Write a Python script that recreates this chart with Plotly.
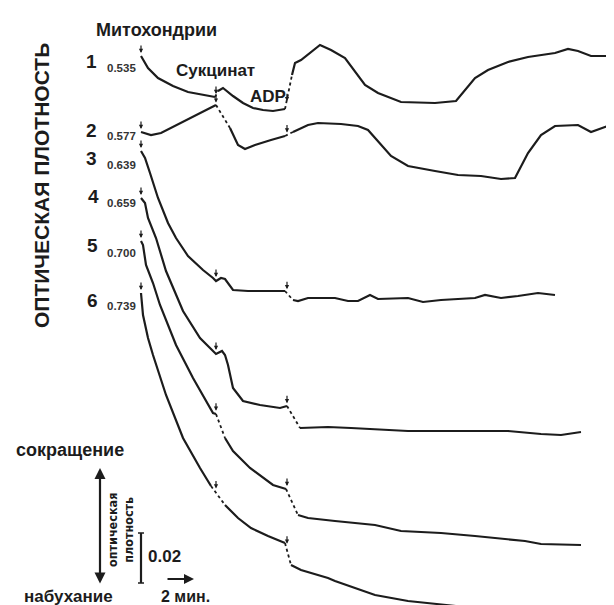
import numpy as np
import plotly.graph_objects as go

# ---- data read from the recording (time units, deflection units; deflection axis points down) ----
t1 = [133, 140, 150, 165, 180, 195, 207, 210, 215, 225, 235, 245, 255, 265, 277, 284, 287, 293, 302, 312, 323, 337, 357, 370, 393, 427, 448, 467, 480, 500, 520, 547, 560, 570, 583, 600]
d1 = [48, 60, 70, 78, 84, 87, 89, 83, 80, 88, 95, 100, 102, 103, 101, 67, 55, 52, 45, 37, 42, 50, 77, 85, 94, 95, 93, 70, 62, 54, 49, 45, 41, 43, 48, 48]
dash1 = [6, 14]

t2 = [133, 143, 153, 167, 187, 203, 208, 222, 230, 237, 247, 263, 277, 285, 300, 310, 333, 350, 360, 383, 400, 427, 450, 473, 493, 507, 520, 533, 547, 570, 583, 600, 613]
d2 = [124, 127, 125, 118, 108, 100, 97, 120, 137, 141, 137, 132, 128, 124, 117, 115, 116, 118, 122, 148, 158, 163, 167, 168, 171, 170, 145, 127, 118, 117, 124, 118, 128]
dash2 = [6, 12]

t3 = [133, 137, 142, 150, 160, 168, 180, 195, 205, 208, 213, 217, 225, 240, 258, 277, 285, 290, 300, 320, 327, 340, 350, 362, 370, 400, 415, 433, 467, 477, 493, 510, 530, 547]
d3 = [143, 150, 165, 190, 215, 230, 248, 262, 270, 273, 270, 271, 282, 283, 283, 283, 292, 293, 290, 290, 290, 293, 293, 287, 291, 290, 294, 292, 290, 287, 290, 288, 285, 287]
dash3 = [15]

t4 = [133, 137, 140, 148, 158, 175, 192, 208, 214, 217, 220, 225, 235, 252, 272, 279, 292, 320, 343, 400, 500, 533, 553, 573]
d4 = [190, 195, 210, 230, 263, 303, 330, 346, 343, 347, 357, 380, 393, 397, 400, 398, 420, 419, 420, 423, 423, 426, 427, 424]
dash4 = [15]

t5 = [133, 135, 138, 145, 152, 168, 185, 205, 208, 217, 225, 242, 265, 278, 290, 300, 327, 367, 393, 433, 467, 517, 533, 573]
d5 = [233, 237, 257, 275, 297, 337, 370, 405, 406, 430, 443, 460, 477, 481, 507, 510, 513, 517, 523, 525, 528, 533, 536, 537]
dash5 = [8, 13]

t6 = [133, 135, 140, 145, 158, 175, 192, 203, 217, 230, 243, 260, 277, 283, 293, 320, 327, 367, 400, 467, 500, 540, 575]
d6 = [285, 307, 330, 347, 387, 430, 460, 478, 497, 510, 520, 528, 535, 557, 562, 570, 573, 587, 593, 600, 603, 607, 610]
dash6 = [7, 12]

trace_names = ["1", "2", "3", "4", "5", "6"]
start_od = ["0.535", "0.577", "0.639", "0.659", "0.700", "0.739"]
events = [133, 208, 279]  # mitochondria, succinate, ADP additions

traces = [(t1, d1, dash1), (t2, d2, dash2), (t3, d3, dash3),
          (t4, d4, dash4), (t5, d5, dash5), (t6, d6, dash6)]

INK = "#1c1c1c"
fig = go.Figure()


def add_segments(x, y, dashed):
    n = len(x)
    groups = []
    for i in range(n - 1):
        style = "dot" if i in dashed else "solid"
        if groups and groups[-1][0] == style:
            groups[-1][1].append(i + 1)
        else:
            groups.append([style, [i, i + 1]])
    for style, idx in groups:
        fig.add_trace(go.Scatter(
            x=[x[k] for k in idx], y=[y[k] for k in idx], mode="lines",
            line=dict(color=INK, width=2.2 if style == "solid" else 1.8, dash=style),
            hoverinfo="skip", showlegend=False))


for x, y, dsh in traces:
    add_segments(x, y, dsh)

annotations = []
# event arrows above each trace
for x, y, dsh in traces:
    for ev in events:
        yl = float(np.interp(ev - 1, x, y))
        annotations.append(dict(x=ev, y=yl - 3, ax=ev, ay=yl - 12, xref="x", yref="y",
                                axref="x", ayref="y", showarrow=True, arrowhead=2,
                                arrowsize=0.7, arrowwidth=1.2, arrowcolor=INK, text=""))

# trace numbers and starting optical densities
num_pos = [(83, 53), (83, 122), (83, 150), (85, 188), (84, 237), (84, 292)]
od_pos = [(113, 60), (113, 128), (113, 157), (113, 195), (113, 245), (113, 298)]
for name, od, (nx, ny), (ox, oy) in zip(trace_names, start_od, num_pos, od_pos):
    annotations.append(dict(x=nx, y=ny, text="<b>%s</b>" % name, showarrow=False,
                            xref="x", yref="y", font=dict(size=19, color=INK, family="Liberation Sans, Arial")))
    annotations.append(dict(x=ox, y=oy, text="<b>%s</b>" % od, showarrow=False,
                            xref="x", yref="y", font=dict(size=11.5, color="#333", family="Liberation Sans, Arial")))

bold = dict(family="Liberation Sans, Arial", color=INK)
texts = [
    ("Митохондрии", 148, 22, 18, 0),
    ("Сукцинат", 207, 62, 17, 0),
    ("ADP", 260, 88, 17, 0),
    ("ОПТИЧЕСКАЯ ПЛОТНОСТЬ", 33, 178, 21, -90),
    ("сокращение", 62, 442, 18, 0),
    ("набухание", 60, 588, 17, 0),
    ("0.02", 156, 548, 17, 0),
    ("2 мин.", 177, 588, 16, 0),
]
for s, x, y, sz, ang in texts:
    annotations.append(dict(x=x, y=y, text="<b>%s</b>" % s, showarrow=False, textangle=ang,
                            xref="x", yref="y", font=dict(size=sz, **bold)))

annotations.append(dict(x=112, y=522, text="<b>оптическая<br>плотность</b>", showarrow=False,
                        textangle=-90, xref="x", yref="y",
                        font=dict(size=12.5, family="Liberation Sans Narrow, DejaVu Sans Condensed, Arial", color=INK)))

# double-headed vertical arrow
annotations.append(dict(x=92, y=460, ax=92, ay=577, xref="x", yref="y", axref="x", ayref="y",
                        showarrow=True, arrowhead=2, arrowside="end+start", arrowsize=1,
                        arrowwidth=2.2, arrowcolor=INK, text=""))
# time arrow
annotations.append(dict(x=186, y=571, ax=158, ay=571, xref="x", yref="y", axref="x", ayref="y",
                        showarrow=True, arrowhead=2, arrowsize=1, arrowwidth=2,
                        arrowcolor=INK, text=""))

shapes = [
    dict(type="line", x0=133, x1=133, y0=525, y1=575, xref="x", yref="y", line=dict(color=INK, width=2.2)),
    dict(type="line", x0=130, x1=136, y0=525, y1=525, xref="x", yref="y", line=dict(color=INK, width=1.5)),
    dict(type="line", x0=130, x1=136, y0=575, y1=575, xref="x", yref="y", line=dict(color=INK, width=1.5)),
]

fig.update_layout(
    width=614, height=605, margin=dict(l=0, r=0, t=0, b=0),
    paper_bgcolor="white", plot_bgcolor="white",
    xaxis=dict(range=[0, 614], visible=False, fixedrange=True),
    yaxis=dict(range=[605, 0], visible=False, fixedrange=True),
    annotations=annotations, shapes=shapes, showlegend=False,
)

fig.write_html("out.html")
